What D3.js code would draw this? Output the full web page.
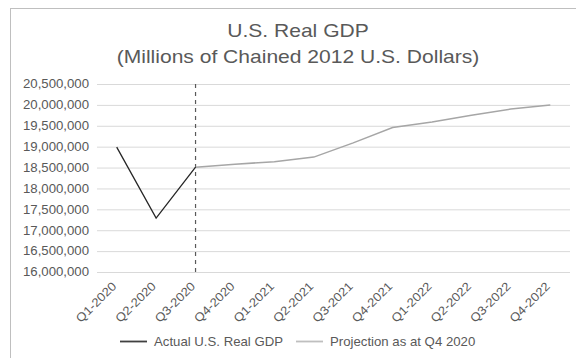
<!DOCTYPE html>
<html>
<head>
<meta charset="utf-8">
<script src="https://cdn.jsdelivr.net/npm/d3@7"></script>
<style>
  body { margin: 0; background: #fff; }
  svg { display: block; font-family: "Liberation Sans", Arial, sans-serif; }
</style>
</head>
<body>
<div class="vis-chart"></div>
<script>
// data
const quarters = ["Q1-2020", "Q2-2020", "Q3-2020", "Q4-2020", "Q1-2021", "Q2-2021",
                  "Q3-2021", "Q4-2021", "Q1-2022", "Q2-2022", "Q3-2022", "Q4-2022"];
const actualGdp = [18990000, 17290000, 18510000, null, null, null, null, null, null, null, null, null];
const projectedGdp = [null, null, 18510000, 18580000, 18640000, 18750000, 19090000, 19460000,
                      19590000, 19750000, 19900000, 20000000];
const yTicks = [16000000, 16500000, 17000000, 17500000, 18000000, 18500000,
                19000000, 19500000, 20000000, 20500000];
const splitQuarter = "Q3-2020";
const titleLines = ["U.S. Real GDP", "(Millions of Chained 2012 U.S. Dollars)"];
const legendNames = ["Actual U.S. Real GDP", "Projection as at Q4 2020"];

const W = 576, H = 358;
const margin = {top: 84, right: 6, bottom: 86, left: 97};
const textGray = "#595959";
// the source font renders wider than Arial, stretch text a little
const stretch = 1.1;

const svg = d3.select(".vis-chart")
    .append("svg")
    .attr("width", W)
    .attr("height", H);

// chart area border (only top and left are visible in the crop)
svg.append("rect")
    .attr("x", 10.5).attr("y", 8.5)
    .attr("width", 600).attr("height", 400)
    .attr("fill", "none")
    .attr("stroke", "#bfbfbf")
    .attr("stroke-width", 1);

const x = d3.scalePoint()
    .domain(quarters)
    .range([margin.left, W - margin.right])
    .padding(0.5);

const y = d3.scaleLinear()
    .domain([16000000, 20500000])
    .range([H - margin.bottom, margin.top]);

// title
const title = svg.append("g").attr("fill", textGray).attr("font-size", 18);
titleLines.forEach((t, i) => {
    title.append("text")
        .attr("transform", `translate(298,${37 + i * 26}) scale(1.17,1)`)
        .attr("text-anchor", "middle")
        .text(t);
});

// gridlines + y axis
const yAxis = svg.append("g")
    .attr("transform", `translate(${margin.left},0)`)
    .call(d3.axisLeft(y)
        .tickValues(yTicks)
        .tickSize(-(W - margin.right - margin.left))
        .tickPadding(8)
        .tickFormat(d3.format(",")));
yAxis.select(".domain").remove();
yAxis.selectAll(".tick line").attr("stroke", "#d9d9d9");
yAxis.selectAll(".tick text")
    .attr("fill", textGray)
    .attr("font-size", 12)
    .attr("font-family", "Liberation Sans, Arial, sans-serif")
    .attr("x", null)
    .attr("transform", `translate(-8,0) scale(${stretch},1)`);

// x axis labels, rotated
const xAxis = svg.append("g")
    .attr("transform", `translate(0,${H - margin.bottom})`)
    .call(d3.axisBottom(x).tickSize(0).tickPadding(0));
xAxis.select(".domain").remove();
xAxis.selectAll(".tick text")
    .attr("fill", textGray)
    .attr("font-size", 12)
    .attr("font-family", "Liberation Sans, Arial, sans-serif")
    .attr("text-anchor", "end")
    .attr("y", 0)
    .attr("dy", "0.35em")
    .attr("transform", `translate(-3,12) rotate(-45) scale(${stretch},1)`);

// dashed divider at the last actual quarter
svg.append("line")
    .attr("x1", x(splitQuarter)).attr("x2", x(splitQuarter))
    .attr("y1", y(20500000)).attr("y2", y(16000000))
    .attr("stroke", textGray)
    .attr("stroke-width", 1.2)
    .attr("stroke-dasharray", "4,4");

const line = d3.line()
    .defined(d => d.v !== null)
    .x(d => x(d.q))
    .y(d => y(d.v));

svg.append("path")
    .datum(quarters.map((q, i) => ({q: q, v: projectedGdp[i]})))
    .attr("fill", "none")
    .attr("stroke", "#a6a6a6")
    .attr("stroke-width", 1.5)
    .attr("d", line);

svg.append("path")
    .datum(quarters.map((q, i) => ({q: q, v: actualGdp[i]})))
    .attr("fill", "none")
    .attr("stroke", "#262626")
    .attr("stroke-width", 1.3)
    .attr("d", line);

// legend
const legendColors = ["#404040", "#bfbfbf"];
const legendX = [120, 296];
const legend = svg.append("g").attr("transform", "translate(0,341.5)");
legendNames.forEach((name, i) => {
    legend.append("line")
        .attr("x1", legendX[i]).attr("x2", legendX[i] + 27)
        .attr("stroke", legendColors[i])
        .attr("stroke-width", 1.8);
    legend.append("text")
        .attr("transform", `translate(${legendX[i] + 34},0) scale(${stretch},1)`)
        .attr("dy", "0.35em")
        .attr("font-size", 12)
        .attr("fill", textGray)
        .text(name);
});
</script>
</body>
</html>
